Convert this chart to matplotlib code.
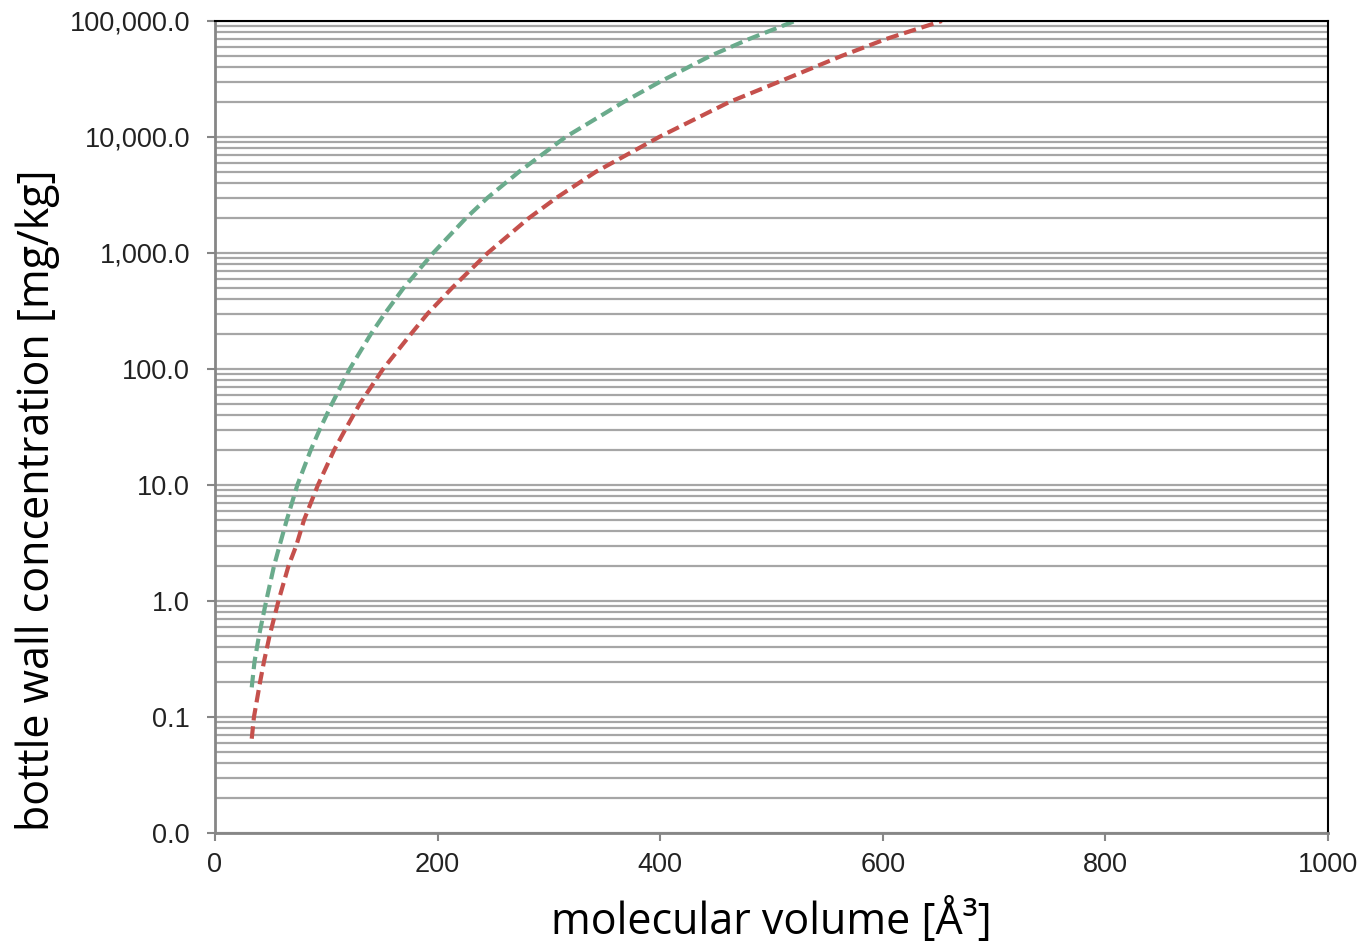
import numpy as np
import matplotlib.pyplot as plt
from matplotlib.ticker import FuncFormatter, LogLocator

# values (molecular volume vs. bottle wall concentration)
green_vol = [33, 35.5, 39.5, 46, 53, 58, 64.5, 74, 86, 94, 105, 121, 140, 152.5, 169.5,
             196, 225.5, 245, 273, 315, 367, 400, 445, 480, 521]
green_conc = [0.18, 0.3, 0.5, 1, 2, 3, 5, 10, 20, 30, 50, 100, 200, 300, 500,
              1000, 2000, 3000, 5000, 10000, 20000, 30000, 50000, 70000, 100000]
red_vol = [33, 35, 40.5, 44, 49, 57, 66, 73, 80, 92.5, 107, 117, 130, 151, 176, 191, 213,
           245, 282, 307, 342, 399, 462, 507, 563, 603, 653]
red_conc = [0.065, 0.1, 0.2, 0.3, 0.5, 1, 2, 3, 5, 10, 20, 30, 50, 100, 200, 300, 500,
            1000, 2000, 3000, 5000, 10000, 20000, 30000, 50000, 70000, 100000]

plt.rcParams['font.family'] = ['Liberation Sans', 'DejaVu Sans']

fig = plt.figure(figsize=(13.63, 9.52), dpi=100)
ax = fig.add_axes([215 / 1363, 1 - 833 / 952, (1328 - 215) / 1363, (833 - 21) / 952])

ax.set_yscale('log')
ax.set_xlim(0, 1000)
ax.set_ylim(0.01, 100000)

# grid lines for every decade and the 2..9 steps in between
ax.yaxis.set_major_locator(LogLocator(base=10, numticks=20))
ax.yaxis.set_minor_locator(LogLocator(base=10, subs=np.arange(2, 10), numticks=20))
ax.yaxis.set_minor_formatter(FuncFormatter(lambda v, p: ""))
ax.grid(True, which='both', axis='y', color='#a6a6a6', linewidth=1.6)
ax.set_axisbelow(True)

# the two dashed curves
ax.plot(green_vol, green_conc, color='#6aab8c', linewidth=3, dashes=(3, 1.4))
ax.plot(red_vol, red_conc, color='#c5504c', linewidth=3, dashes=(3, 1.4))

ax.yaxis.set_major_formatter(FuncFormatter(lambda v, p: f"{v:,.1f}"))
ax.set_xticks([0, 200, 400, 600, 800, 1000])
ax.tick_params(axis='both', which='major', labelsize=19.5, colors='#868686',
               labelcolor='#222222', length=6, width=1.5, direction='out')
ax.tick_params(axis='y', which='minor', length=0)
ax.tick_params(axis='y', pad=12)
ax.tick_params(axis='x', pad=8)

ax.spines['left'].set_color('#868686')
ax.spines['bottom'].set_color('#868686')
ax.spines['left'].set_linewidth(2)
ax.spines['bottom'].set_linewidth(2)
ax.spines['top'].set_color('black')
ax.spines['right'].set_color('black')
ax.spines['top'].set_linewidth(1.5)
ax.spines['right'].set_linewidth(1.5)

ax.set_xlabel('molecular volume [Å³]', fontsize=31, family=['Open Sans', 'DejaVu Sans'], labelpad=15)
ax.set_ylabel('bottle wall concentration [mg/kg]', fontsize=31, family=['Open Sans', 'DejaVu Sans'])
ax.yaxis.set_label_coords(-0.139, 0.41)

fig.savefig('out.png', dpi=100)
